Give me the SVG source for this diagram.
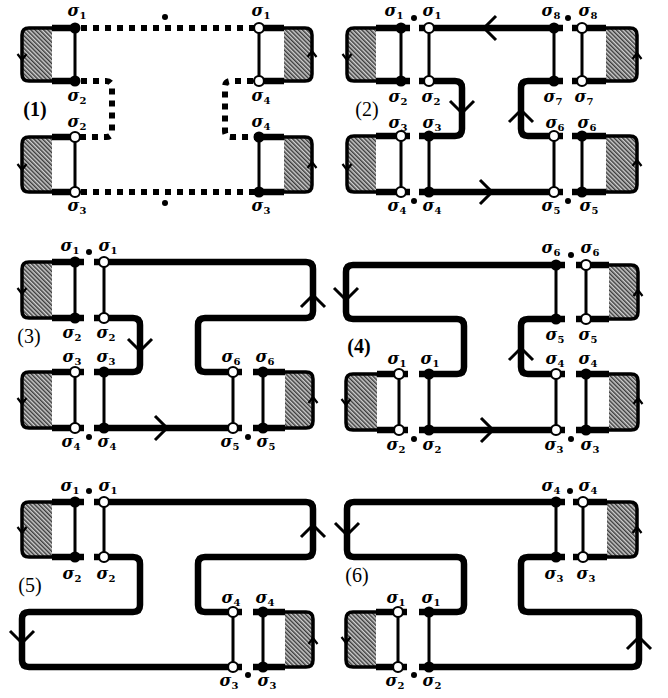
<svg xmlns="http://www.w3.org/2000/svg" xmlns:xlink="http://www.w3.org/1999/xlink" width="668" height="698" viewBox="0 0 668 698">
<style>
.thk{fill:none;stroke:#000;stroke-width:6.5}
.vt{fill:none;stroke:#000;stroke-width:3}
.dash{fill:none;stroke:#000;stroke-width:6;stroke-dasharray:6 6}
.blk{fill:url(#hatch);stroke:#000;stroke-width:3.5}
.fn{fill:#000}
.on{fill:#fff;stroke:#000;stroke-width:2.2}
.arr{fill:none;stroke:#000;stroke-width:3}
.sarr{fill:none;stroke:#000;stroke-width:2.2}
.lab{font-family:"DejaVu Serif","Liberation Serif",serif;font-style:italic;font-weight:bold;font-size:16px;text-anchor:middle}
.sub{font-style:normal;font-size:10px}
.pl{font-family:"Liberation Serif",serif;font-size:20px;text-anchor:middle}
</style>
<defs>
<pattern id="hatch" width="3" height="3" patternUnits="userSpaceOnUse" patternTransform="rotate(-45)"><rect width="3" height="3" fill="#cfcfcf"/><line x1="0.75" y1="0" x2="0.75" y2="3" stroke="#333" stroke-width="1.4"/></pattern>
<path id="ch" d="M-12,-12 L0,0 L-12,12"/>
<path id="sch" d="M-6,-4.5 L0,0 L-6,4.5"/>
</defs>
<rect width="668" height="698" fill="#fff"/>

<!-- Panel 1 -->
<g id="panel1">
<g id="p1-blocks">
<path class="blk" d="M52,28 H29 Q22,28 22,35 V74 Q22,81 29,81 H52"/>
<path class="blk" d="M52,137 H29 Q22,137 22,144 V185 Q22,192 29,192 H52"/>
<path class="blk" d="M284,28 H305 Q312,28 312,35 V74 Q312,81 305,81 H284"/>
<path class="blk" d="M284,137 H305 Q312,137 312,144 V185 Q312,192 305,192 H284"/>
<use href="#sch" class="sarr" transform="translate(22,60) rotate(90)"/>
<use href="#sch" class="sarr" transform="translate(22,170) rotate(90)"/>
<use href="#sch" class="sarr" transform="translate(312,51) rotate(-90)"/>
<use href="#sch" class="sarr" transform="translate(312,162) rotate(-90)"/>
<path class="thk" d="M52,28H75 M52,81H75 M52,137H75 M52,192H75 M259,28H284 M259,81H284 M259,137H284 M259,192H284"/>
<path class="vt" d="M75,28V81 M75,137V192 M259,28V81 M259,137V192"/>
</g>
<g id="p1-connectors">
<path class="dash" d="M81,28 H259"/>
<path class="dash" d="M81,192 H259"/>
<path class="dash" d="M81,81 H106 Q112,81 112,87 V131 Q112,137 106,137 H75"/>
<path class="dash" d="M253,81 H231 Q225,81 225,87 V131 Q225,137 231,137 H259"/>
</g>
<g id="p1-nodes">
<circle class="fn" cx="75" cy="28" r="5.5"/><circle class="fn" cx="75" cy="81" r="5.5"/>
<circle class="on" cx="75" cy="137" r="5"/><circle class="on" cx="75" cy="192" r="5"/>
<circle class="on" cx="259" cy="28" r="5"/><circle class="on" cx="259" cy="81" r="5"/>
<circle class="fn" cx="259" cy="137" r="5.5"/><circle class="fn" cx="259" cy="192" r="5.5"/>
<circle class="fn" cx="165" cy="17" r="3"/><circle class="fn" cx="165" cy="203" r="3"/>
</g>
<g id="p1-labels">
<text class="lab" x="77" y="16">σ<tspan class="sub" dy="3">1</tspan></text>
<text class="lab" x="77" y="101">σ<tspan class="sub" dy="3">2</tspan></text>
<text class="lab" x="77" y="127">σ<tspan class="sub" dy="3">2</tspan></text>
<text class="lab" x="77" y="211">σ<tspan class="sub" dy="3">3</tspan></text>
<text class="lab" x="261" y="16">σ<tspan class="sub" dy="3">1</tspan></text>
<text class="lab" x="261" y="101">σ<tspan class="sub" dy="3">4</tspan></text>
<text class="lab" x="261" y="127">σ<tspan class="sub" dy="3">4</tspan></text>
<text class="lab" x="261" y="211">σ<tspan class="sub" dy="3">3</tspan></text>
<text class="pl" x="35" y="116" font-weight="bold">(1)</text>
</g>
</g>

<!-- Panel 2 -->
<g id="panel2">
<g id="p2-blocks">
<path class="blk" d="M376,28 H354 Q347,28 347,35 V74 Q347,81 354,81 H376"/>
<path class="blk" d="M376,136 H354 Q347,136 347,143 V185 Q347,192 354,192 H376"/>
<path class="blk" d="M606,28 H630 Q637,28 637,35 V74 Q637,81 630,81 H606"/>
<path class="blk" d="M606,136 H630 Q637,136 637,143 V185 Q637,192 630,192 H606"/>
<use href="#sch" class="sarr" transform="translate(347,60) rotate(90)"/>
<use href="#sch" class="sarr" transform="translate(347,170) rotate(90)"/>
<use href="#sch" class="sarr" transform="translate(637,53) rotate(-90)"/>
<use href="#sch" class="sarr" transform="translate(637,160) rotate(-90)"/>
<path class="thk" d="M376,28H410 M376,81H410 M376,136H410 M376,192H410 M572,28H606 M572,81H606 M572,136H606 M572,192H606"/>
<path class="vt" d="M401,28V81 M429,28V81 M401,136V192 M429,136V192 M554,28V81 M582,28V81 M554,136V192 M582,136V192"/>
</g>
<g id="p2-connectors">
<path class="thk" d="M419,28 H563"/>
<path class="thk" d="M419,81 H455 Q462,81 462,88 V129 Q462,136 455,136 H419"/>
<path class="thk" d="M563,81 H528 Q521,81 521,88 V129 Q521,136 528,136 H563"/>
<path class="thk" d="M419,192 H563"/>
<use href="#ch" class="arr" transform="translate(484,28) rotate(180)"/>
<use href="#ch" class="arr" transform="translate(462,113) rotate(90)"/>
<use href="#ch" class="arr" transform="translate(521,110) rotate(-90)"/>
<use href="#ch" class="arr" transform="translate(492,192)"/>
</g>
<g id="p2-nodes">
<circle class="fn" cx="401" cy="28" r="5.5"/><circle class="fn" cx="401" cy="81" r="5.5"/>
<circle class="on" cx="429" cy="28" r="5"/><circle class="on" cx="429" cy="81" r="5"/>
<circle class="on" cx="401" cy="136" r="5"/><circle class="on" cx="401" cy="192" r="5"/>
<circle class="fn" cx="429" cy="136" r="5.5"/><circle class="fn" cx="429" cy="192" r="5.5"/>
<circle class="fn" cx="554" cy="28" r="5.5"/><circle class="fn" cx="554" cy="81" r="5.5"/>
<circle class="on" cx="582" cy="28" r="5"/><circle class="on" cx="582" cy="81" r="5"/>
<circle class="on" cx="554" cy="136" r="5"/><circle class="on" cx="554" cy="192" r="5"/>
<circle class="fn" cx="582" cy="136" r="5.5"/><circle class="fn" cx="582" cy="192" r="5.5"/>
<circle class="fn" cx="414" cy="18" r="3"/><circle class="fn" cx="568" cy="18" r="3"/>
<circle class="fn" cx="414" cy="201" r="3"/><circle class="fn" cx="568" cy="201" r="3"/>
</g>
<g id="p2-labels">
<text class="lab" x="394" y="16">σ<tspan class="sub" dy="3">1</tspan></text>
<text class="lab" x="432" y="16">σ<tspan class="sub" dy="3">1</tspan></text>
<text class="lab" x="551" y="16">σ<tspan class="sub" dy="3">8</tspan></text>
<text class="lab" x="588" y="16">σ<tspan class="sub" dy="3">8</tspan></text>
<text class="lab" x="398" y="102">σ<tspan class="sub" dy="3">2</tspan></text>
<text class="lab" x="431" y="102">σ<tspan class="sub" dy="3">2</tspan></text>
<text class="lab" x="553" y="102">σ<tspan class="sub" dy="3">7</tspan></text>
<text class="lab" x="584" y="102">σ<tspan class="sub" dy="3">7</tspan></text>
<text class="lab" x="398" y="128">σ<tspan class="sub" dy="3">3</tspan></text>
<text class="lab" x="432" y="128">σ<tspan class="sub" dy="3">3</tspan></text>
<text class="lab" x="555" y="128">σ<tspan class="sub" dy="3">6</tspan></text>
<text class="lab" x="587" y="128">σ<tspan class="sub" dy="3">6</tspan></text>
<text class="lab" x="397" y="211">σ<tspan class="sub" dy="3">4</tspan></text>
<text class="lab" x="432" y="211">σ<tspan class="sub" dy="3">4</tspan></text>
<text class="lab" x="551" y="211">σ<tspan class="sub" dy="3">5</tspan></text>
<text class="lab" x="589" y="211">σ<tspan class="sub" dy="3">5</tspan></text>
<text class="pl" x="367" y="116">(2)</text>
</g>
</g>

<!-- Panel 3 -->
<g id="panel3">
<g id="p3-blocks">
<path class="blk" d="M52,262 H29 Q22,262 22,269 V311 Q22,318 29,318 H52"/>
<path class="blk" d="M52,372 H29 Q22,372 22,379 V421 Q22,428 29,428 H52"/>
<path class="blk" d="M285,372 H306 Q313,372 313,379 V421 Q313,428 306,428 H285"/>
<use href="#sch" class="sarr" transform="translate(22,294) rotate(90)"/>
<use href="#sch" class="sarr" transform="translate(22,404) rotate(90)"/>
<use href="#sch" class="sarr" transform="translate(313,397) rotate(-90)"/>
<path class="thk" d="M52,262H84 M52,318H84 M52,372H84 M52,428H84 M253,372H285 M253,428H285"/>
<path class="vt" d="M75,262V318 M104,262V318 M75,372V428 M104,372V428 M233,372V428 M263,372V428"/>
</g>
<g id="p3-connectors">
<path class="thk" d="M94,262 H306 Q313,262 313,269 V311 Q313,318 306,318 H205 Q198,318 198,325 V365 Q198,372 205,372 H242"/>
<path class="thk" d="M94,318 H133 Q140,318 140,325 V365 Q140,372 133,372 H94"/>
<path class="thk" d="M94,428 H242"/>
<use href="#ch" class="arr" transform="translate(313,295) rotate(-90)"/>
<use href="#ch" class="arr" transform="translate(140,351) rotate(90)"/>
<use href="#ch" class="arr" transform="translate(167,428)"/>
</g>
<g id="p3-nodes">
<circle class="fn" cx="75" cy="262" r="5.5"/><circle class="fn" cx="75" cy="318" r="5.5"/>
<circle class="on" cx="104" cy="262" r="5"/><circle class="on" cx="104" cy="318" r="5"/>
<circle class="on" cx="75" cy="372" r="5"/><circle class="on" cx="75" cy="428" r="5"/>
<circle class="fn" cx="104" cy="372" r="5.5"/><circle class="fn" cx="104" cy="428" r="5.5"/>
<circle class="on" cx="233" cy="372" r="5"/><circle class="on" cx="233" cy="428" r="5"/>
<circle class="fn" cx="263" cy="372" r="5.5"/><circle class="fn" cx="263" cy="428" r="5.5"/>
<circle class="fn" cx="89" cy="252" r="3"/><circle class="fn" cx="89" cy="437" r="3"/><circle class="fn" cx="248" cy="437" r="3"/>
</g>
<g id="p3-labels">
<text class="lab" x="70" y="251">σ<tspan class="sub" dy="3">1</tspan></text>
<text class="lab" x="108" y="251">σ<tspan class="sub" dy="3">1</tspan></text>
<text class="lab" x="72" y="338">σ<tspan class="sub" dy="3">2</tspan></text>
<text class="lab" x="106" y="338">σ<tspan class="sub" dy="3">2</tspan></text>
<text class="lab" x="72" y="362">σ<tspan class="sub" dy="3">3</tspan></text>
<text class="lab" x="106" y="362">σ<tspan class="sub" dy="3">3</tspan></text>
<text class="lab" x="71" y="447">σ<tspan class="sub" dy="3">4</tspan></text>
<text class="lab" x="107" y="447">σ<tspan class="sub" dy="3">4</tspan></text>
<text class="lab" x="231" y="362">σ<tspan class="sub" dy="3">6</tspan></text>
<text class="lab" x="265" y="362">σ<tspan class="sub" dy="3">6</tspan></text>
<text class="lab" x="230" y="447">σ<tspan class="sub" dy="3">5</tspan></text>
<text class="lab" x="266" y="447">σ<tspan class="sub" dy="3">5</tspan></text>
<text class="pl" x="29" y="343">(3)</text>
</g>
</g>

<!-- Panel 4 -->
<g id="panel4">
<g id="p4-blocks">
<path class="blk" d="M609,265 H631 Q638,265 638,272 V312 Q638,319 631,319 H609"/>
<path class="blk" d="M377,374 H353 Q346,374 346,381 V423 Q346,430 353,430 H377"/>
<path class="blk" d="M609,374 H631 Q638,374 638,381 V423 Q638,430 631,430 H609"/>
<use href="#sch" class="sarr" transform="translate(638,290) rotate(-90)"/>
<use href="#sch" class="sarr" transform="translate(346,405) rotate(90)"/>
<use href="#sch" class="sarr" transform="translate(638,398) rotate(-90)"/>
<path class="thk" d="M576,265H609 M576,319H609 M576,374H609 M576,430H609 M377,374H408 M377,430H408"/>
<path class="vt" d="M556,265V319 M586,265V319 M556,374V430 M586,374V430 M399,374V430 M429,374V430"/>
</g>
<g id="p4-connectors">
<path class="thk" d="M565,265 H353 Q346,265 346,272 V312 Q346,319 353,319 H457 Q464,319 464,326 V367 Q464,374 457,374 H419"/>
<path class="thk" d="M565,319 H528 Q521,319 521,326 V367 Q521,374 528,374 H565"/>
<path class="thk" d="M419,430 H565"/>
<use href="#ch" class="arr" transform="translate(346,300) rotate(90)"/>
<use href="#ch" class="arr" transform="translate(521,348) rotate(-90)"/>
<use href="#ch" class="arr" transform="translate(493,430)"/>
</g>
<g id="p4-nodes">
<circle class="fn" cx="556" cy="265" r="5.5"/><circle class="fn" cx="556" cy="319" r="5.5"/>
<circle class="on" cx="586" cy="265" r="5"/><circle class="on" cx="586" cy="319" r="5"/>
<circle class="on" cx="399" cy="374" r="5"/><circle class="on" cx="399" cy="430" r="5"/>
<circle class="fn" cx="429" cy="374" r="5.5"/><circle class="fn" cx="429" cy="430" r="5.5"/>
<circle class="on" cx="556" cy="374" r="5"/><circle class="on" cx="556" cy="430" r="5"/>
<circle class="fn" cx="586" cy="374" r="5.5"/><circle class="fn" cx="586" cy="430" r="5.5"/>
<circle class="fn" cx="571" cy="255" r="3"/><circle class="fn" cx="414" cy="439" r="3"/><circle class="fn" cx="571" cy="439" r="3"/>
</g>
<g id="p4-labels">
<text class="lab" x="551" y="253">σ<tspan class="sub" dy="3">6</tspan></text>
<text class="lab" x="590" y="253">σ<tspan class="sub" dy="3">6</tspan></text>
<text class="lab" x="555" y="340">σ<tspan class="sub" dy="3">5</tspan></text>
<text class="lab" x="588" y="340">σ<tspan class="sub" dy="3">5</tspan></text>
<text class="lab" x="397" y="364">σ<tspan class="sub" dy="3">1</tspan></text>
<text class="lab" x="430" y="364">σ<tspan class="sub" dy="3">1</tspan></text>
<text class="lab" x="555" y="364">σ<tspan class="sub" dy="3">4</tspan></text>
<text class="lab" x="588" y="364">σ<tspan class="sub" dy="3">4</tspan></text>
<text class="lab" x="396" y="450">σ<tspan class="sub" dy="3">2</tspan></text>
<text class="lab" x="432" y="450">σ<tspan class="sub" dy="3">2</tspan></text>
<text class="lab" x="554" y="450">σ<tspan class="sub" dy="3">3</tspan></text>
<text class="lab" x="590" y="450">σ<tspan class="sub" dy="3">3</tspan></text>
<text class="pl" x="359" y="353" font-weight="bold">(4)</text>
</g>
</g>

<!-- Panel 5 -->
<g id="panel5">
<g id="p5-blocks">
<path class="blk" d="M52,502 H29 Q22,502 22,509 V550 Q22,557 29,557 H52"/>
<path class="blk" d="M285,612 H306 Q313,612 313,619 V660 Q313,667 306,667 H285"/>
<use href="#sch" class="sarr" transform="translate(22,533) rotate(90)"/>
<use href="#sch" class="sarr" transform="translate(313,638) rotate(-90)"/>
<path class="thk" d="M52,502H84 M52,557H84 M253,612H285 M253,667H285"/>
<path class="vt" d="M75,502V557 M104,502V557 M233,612V667 M263,612V667"/>
</g>
<g id="p5-connectors">
<path class="thk" d="M94,502 H306 Q313,502 313,509 V550 Q313,557 306,557 H205 Q198,557 198,564 V605 Q198,612 205,612 H242"/>
<path class="thk" d="M94,557 H133 Q140,557 140,564 V605 Q140,612 133,612 H29 Q22,612 22,619 V660 Q22,667 29,667 H242"/>
<use href="#ch" class="arr" transform="translate(313,525) rotate(-90)"/>
<use href="#ch" class="arr" transform="translate(22,643) rotate(90)"/>
</g>
<g id="p5-nodes">
<circle class="fn" cx="75" cy="502" r="5.5"/><circle class="fn" cx="75" cy="557" r="5.5"/>
<circle class="on" cx="104" cy="502" r="5"/><circle class="on" cx="104" cy="557" r="5"/>
<circle class="on" cx="233" cy="612" r="5"/><circle class="on" cx="233" cy="667" r="5"/>
<circle class="fn" cx="263" cy="612" r="5.5"/><circle class="fn" cx="263" cy="667" r="5.5"/>
<circle class="fn" cx="89" cy="491" r="3"/><circle class="fn" cx="248" cy="675" r="3"/>
</g>
<g id="p5-labels">
<text class="lab" x="70" y="491">σ<tspan class="sub" dy="3">1</tspan></text>
<text class="lab" x="108" y="491">σ<tspan class="sub" dy="3">1</tspan></text>
<text class="lab" x="72" y="579">σ<tspan class="sub" dy="3">2</tspan></text>
<text class="lab" x="106" y="579">σ<tspan class="sub" dy="3">2</tspan></text>
<text class="lab" x="231" y="603">σ<tspan class="sub" dy="3">4</tspan></text>
<text class="lab" x="265" y="603">σ<tspan class="sub" dy="3">4</tspan></text>
<text class="lab" x="229" y="686">σ<tspan class="sub" dy="3">3</tspan></text>
<text class="lab" x="267" y="686">σ<tspan class="sub" dy="3">3</tspan></text>
<text class="pl" x="30" y="592">(5)</text>
</g>
</g>

<!-- Panel 6 -->
<g id="panel6">
<g id="p6-blocks">
<path class="blk" d="M607,502 H630 Q637,502 637,509 V550 Q637,557 630,557 H607"/>
<path class="blk" d="M376,612 H353 Q346,612 346,619 V660 Q346,667 353,667 H376"/>
<use href="#sch" class="sarr" transform="translate(637,527) rotate(-90)"/>
<use href="#sch" class="sarr" transform="translate(346,643) rotate(90)"/>
<path class="thk" d="M573,502H607 M573,557H607 M376,612H407 M376,667H407"/>
<path class="vt" d="M556,502V557 M583,502V557 M398,612V667 M429,612V667"/>
</g>
<g id="p6-connectors">
<path class="thk" d="M565,502 H354 Q347,502 347,509 V550 Q347,557 354,557 H457 Q464,557 464,564 V605 Q464,612 457,612 H419"/>
<path class="thk" d="M565,557 H528 Q521,557 521,564 V605 Q521,612 528,612 H632 Q639,612 639,619 V660 Q639,667 632,667 H419"/>
<use href="#ch" class="arr" transform="translate(347,535) rotate(90)"/>
<use href="#ch" class="arr" transform="translate(639,637) rotate(-90)"/>
</g>
<g id="p6-nodes">
<circle class="fn" cx="556" cy="502" r="5.5"/><circle class="fn" cx="556" cy="557" r="5.5"/>
<circle class="on" cx="583" cy="502" r="5"/><circle class="on" cx="583" cy="557" r="5"/>
<circle class="on" cx="398" cy="612" r="5"/><circle class="on" cx="398" cy="667" r="5"/>
<circle class="fn" cx="429" cy="612" r="5.5"/><circle class="fn" cx="429" cy="667" r="5.5"/>
<circle class="fn" cx="570" cy="491" r="3"/><circle class="fn" cx="414" cy="675" r="3"/>
</g>
<g id="p6-labels">
<text class="lab" x="551" y="491">σ<tspan class="sub" dy="3">4</tspan></text>
<text class="lab" x="588" y="491">σ<tspan class="sub" dy="3">4</tspan></text>
<text class="lab" x="554" y="579">σ<tspan class="sub" dy="3">3</tspan></text>
<text class="lab" x="586" y="579">σ<tspan class="sub" dy="3">3</tspan></text>
<text class="lab" x="396" y="603">σ<tspan class="sub" dy="3">1</tspan></text>
<text class="lab" x="431" y="603">σ<tspan class="sub" dy="3">1</tspan></text>
<text class="lab" x="395" y="686">σ<tspan class="sub" dy="3">2</tspan></text>
<text class="lab" x="432" y="686">σ<tspan class="sub" dy="3">2</tspan></text>
<text class="pl" x="357" y="582">(6)</text>
</g>
</g>
</svg>
